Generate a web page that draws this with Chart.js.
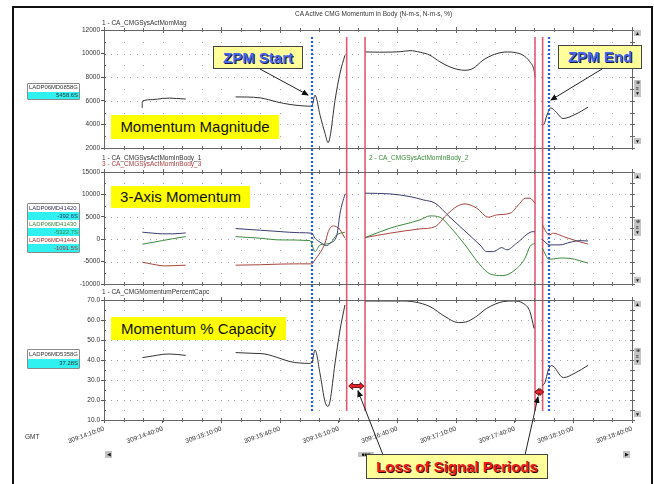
<!DOCTYPE html>
<html>
<head>
<meta charset="utf-8">
<title>CA Active CMG Momentum in Body</title>
<script src="https://cdn.jsdelivr.net/npm/chart.js@4.4.1/dist/chart.umd.min.js"></script>
<style>
  html, body { margin: 0; padding: 0; background: #fff; }
  #page { position: relative; width: 654px; height: 484px; overflow: hidden; font-family: "Liberation Sans", Arial, sans-serif; }
  #page canvas { position: absolute; left: 0; top: 0; }
  .frame { position: absolute; left: 12px; top: 6px; width: 641px; height: 500px; border: 2px solid #111; box-sizing: border-box; }
  .small { position: absolute; font-size: 6.5px; line-height: 7px; white-space: nowrap; color: #333; }
  .vbox { position: absolute; left: 27px; width: 53px; border: 1px solid #8a8a8a; border-radius: 1px; box-sizing: border-box; background: #fff; font-size: 5.9px; }
  .vbox div { height: 8px; line-height: 8px; padding: 0 1px; white-space: nowrap; overflow: hidden; }
  .vbox .val { background: #30f0f0; text-align: right; }
  .tag { position: absolute; background: #ffff00; color: #111; font-size: 15px; text-align: center; white-space: nowrap; }
  .call { position: absolute; background: #ffff99; border: 1px solid #444; box-sizing: border-box; font-weight: bold; font-size: 15px; text-align: center; white-space: nowrap; }
  .sb { position: absolute; left: 634px; width: 7px; background: #c4c4c4; font-size: 5px; text-align: center; color: #111; overflow: hidden; }
</style>
</head>
<body>
<div id="page">
  <canvas id="magChart" width="654" height="484"></canvas>
  <canvas id="axisChart" width="654" height="484"></canvas>
  <canvas id="capChart" width="654" height="484"></canvas>
  <div class="frame"></div>

  <div class="small" style="left:295px;top:10px;">CA Active CMG Momentum in Body (N-m-s, N-m-s, %)</div>
  <div class="small" style="left:102px;top:18.5px;">1 - CA_CMGSysActMomMag</div>
  <div class="small" style="left:102px;top:153.5px;">1 - CA_CMGSysActMomInBody_1</div>
  <div class="small" style="left:102px;top:160px;color:#a84040;">3 - CA_CMGSysActMomInBody_3</div>
  <div class="small" style="left:369px;top:153.5px;color:#3a8a3a;">2 - CA_CMGSysActMomInBody_2</div>
  <div class="small" style="left:102px;top:288px;">1 - CA_CMGMomentumPercentCapc</div>
  <div class="small" style="left:25px;top:433px;">GMT</div>

  <div class="vbox" style="top:83px;">
    <div style="color:#333;height:7.5px;line-height:7.5px;">LADP06MD0858G</div>
    <div class="val" style="color:#333;height:7.5px;line-height:7.5px;">5458.6S</div>
  </div>
  <div class="vbox" style="top:203px;">
    <div style="color:#33335a;">LADP06MD41420</div>
    <div class="val" style="color:#33335a;">-392.6S</div>
    <div style="color:#3a8a3a;">LADP06MD41430</div>
    <div class="val" style="color:#3a8a3a;">-5322.7S</div>
    <div style="color:#b03030;">LADP06MD41440</div>
    <div class="val" style="color:#b03030;">-1091.5S</div>
  </div>
  <div class="vbox" style="top:349px;">
    <div style="color:#333;height:9px;line-height:9px;">LADP06MD5358G</div>
    <div class="val" style="color:#333;height:9px;line-height:9px;">37.28S</div>
  </div>

  <div class="sb" style="top:30px;height:6px;line-height:6px;">&#9650;</div>
  <div class="sb" style="top:80px;height:17px;line-height:5.6px;">&#8853;<br>&#8801;<br>&#9660;</div>
  <div class="sb" style="top:138px;height:6px;line-height:6px;">&#9660;</div>
  <div class="sb" style="top:173px;height:6px;line-height:6px;">&#9650;</div>
  <div class="sb" style="top:219px;height:17px;line-height:5.6px;">&#8853;<br>&#8801;<br>&#9660;</div>
  <div class="sb" style="top:277px;height:6px;line-height:6px;">&#9660;</div>
  <div class="sb" style="top:301px;height:6px;line-height:6px;">&#9650;</div>
  <div class="sb" style="top:348px;height:17px;line-height:5.6px;">&#8853;<br>&#8801;<br>&#9660;</div>
  <div class="sb" style="top:411px;height:6px;line-height:6px;">&#9660;</div>
  <div class="sb" style="left:105px;top:451px;height:7px;line-height:7px;">&#9664;</div>
  <div class="sb" style="left:623px;top:451px;height:7px;line-height:7px;">&#9654;</div>
  <div class="sb" style="left:358px;top:452px;width:16px;height:5px;line-height:5px;">&#9632;&#9632;&#9632;</div>

  <div class="tag" style="left:111px;top:115px;width:168px;height:24px;line-height:24px;">Momentum Magnitude</div>
  <div class="tag" style="left:111px;top:186px;width:139px;height:22px;line-height:22px;">3-Axis Momentum</div>
  <div class="tag" style="left:111px;top:317px;width:175px;height:23px;line-height:23px;">Momentum % Capacity</div>

  <svg width="654" height="484" style="position:absolute;left:0;top:0;">
    <defs>
      <marker id="ah" markerWidth="7" markerHeight="6" refX="6" refY="3" orient="auto" markerUnits="userSpaceOnUse">
        <path d="M0,0 L7,3 L0,6 z" fill="#111"></path>
      </marker>
    </defs>
    <g stroke="#222" stroke-width="1" marker-end="url(#ah)">
      <line x1="260" y1="69" x2="308" y2="95"></line>
      <line x1="602" y1="69" x2="551" y2="100"></line>
      <line x1="383" y1="455" x2="358" y2="391"></line>
      <line x1="525" y1="455" x2="538" y2="397"></line>
    </g>
  </svg>

  <div class="call" style="left:213px;top:46px;width:90px;height:23px;line-height:21px;color:#4466ee;text-shadow:1px 1px 0 #1a1a4a;">ZPM Start</div>
  <div class="call" style="left:558px;top:45px;width:84px;height:24px;line-height:22px;color:#4466ee;text-shadow:1px 1px 0 #1a1a4a;">ZPM End</div>
  <div class="call" style="left:366px;top:454px;width:182px;height:25px;line-height:23px;color:#ee1c1c;text-shadow:1px 1px 0 #3a0000;">Loss of Signal Periods</div>
</div>

<script>
  'use strict';

  /* =========================================================================
     DATA  (time = minutes after 309:14:10:00 GMT, null = no signal)
     ========================================================================= */

  var timeLabels = ['309:14:10:00', '309:14:40:00', '309:15:10:00', '309:15:40:00', '309:16:10:00',
                    '309:16:40:00', '309:17:10:00', '309:17:40:00', '309:18:10:00', '309:18:40:00'];

  // ZPM start / end and the two loss-of-signal windows
  var zpmTimes = [106.2, 227.6];
  var losStart = [124.1, 220.4];
  var losEnd = [133.5, 224.3];
  var losArrowLevel = [27, 24];   // in % capacity units

  // 1 - CA_CMGSysActMomMag
  var magTime = [19.5, 19.6, 25, 29.8, 33.7, 37, 41.8, 55,
                 67.3, 73, 79.8, 84, 88.3, 95.1, 100.2, 105.3, 106.4, 107.9, 110.5, 113.0, 114.6, 115.6, 118.1, 120.7, 123.2, 128,
                 133.5, 141.1, 151.4, 156.5, 161.6, 166.7, 171.8, 176.9, 181.0, 184.6, 188.7, 193.8, 199.9, 206.1, 210.2, 214.3, 217.8, 219.9, 220.4, 222,
                 224.1, 225.0, 226.5, 228.4, 231.1, 234.7, 240.9, 247.5];
  var magValues = [5400, 5970, 6100, 6200, 6230, 6200, 6150, null,
                   6330, 6320, 6250, 6100, 5910, 5690, 5590, 5540, 5600, 6480, 4770, 3250, 2450, 2950, 6000, 8350, 9860, null,
                   10140, 10120, 10160, 10250, 10120, 9860, 9300, 8870, 8650, 8590, 8740, 9440, 9950, 10140, 10090, 9860, 9300, 8590, 8030, null,
                   3930, 4010, 4780, 5400, 5060, 4500, 4840, 5460];

  // 1 - CA_CMGSysActMomInBody_1
  var body1Time = [19.6, 25, 30, 35, 41.8, 55,
                   67.3, 80, 90, 100, 106.2, 107.9, 110.5, 113.9, 115.6, 119.1, 120.7, 123.2, 128,
                   133.5, 146.2, 156.5, 163.3, 169.3, 176.9, 184.6, 192.3, 195.7, 199.1, 203.4, 206.0, 211.0, 219.5, 220.4, 222,
                   224.1, 225.5, 227.6, 233.2, 238.3, 243.4, 247.5];
  var body1Values = [1560, 1350, 1200, 1200, 1400, null,
                     2370, 2000, 1700, 1450, 1340, 220, -670, -1430, -900, 960, 5800, 10040, null,
                     10270, 10110, 9510, 8770, 8030, 4900, 1800, -1300, -2770, -2770, -1870, -2390, -900, 1700, 1600, null,
                     0, -600, -1270, -1270, -690, -320, -390];

  // 2 - CA_CMGSysActMomInBody_2
  var body2Time = [19.6, 25, 30, 35, 41.8, 55,
                   67.3, 79.8, 90, 105.3, 107.9, 110.5, 115.6, 119.0, 123.2, 128,
                   133.5, 146.2, 161.6, 166.7, 171.8, 176.9, 184.6, 192.3, 197.4, 204.0, 210.2, 215.3, 217.8, 220.4, 222,
                   224.1, 227.6, 230, 233.2, 238.3, 247.5];
  var body2Values = [-1120, -700, -300, 100, 580, null,
                     580, 220, -160, -310, -2770, -1270, -900, 960, 1560, null,
                     360, 2450, 4310, 5200, 4900, 2800, -1270, -5740, -7750, -8120, -6850, -4240, -1640, -900, null,
                     -2000, -4460, -4400, -4200, -4300, -5320];

  // 3 - CA_CMGSysActMomInBody_3
  var body3Time = [19.6, 25, 31.2, 36, 41.8, 55,
                   67.3, 80, 90, 100, 106.2, 107.9, 113.0, 114.7, 117.3, 120.7, 123.2, 128,
                   133.5, 146.2, 161.6, 169.3, 175.2, 180.3, 184.6, 190.6, 196.5, 200.8, 207.6, 212.7, 215.3, 217.8, 220.4, 222,
                   224.1, 227.6, 229.8, 234.9, 240.0, 247.5];
  var body3Values = [-5130, -5600, -5960, -5900, -5800, null,
                     -5800, -5700, -5550, -5500, -5510, -4600, -900, 1700, 2970, 2080, 220, null,
                     360, 1340, 2300, 2810, 5420, 7280, 7880, 6920, 4910, 5420, 5800, 8030, 9150, 9150, 8030, null,
                     3190, 960, 1340, 590, -160, -1090];

  // 1 - CA_CMGMomentumPercentCapc
  var capTime = [19.6, 25, 29.8, 33.7, 41.8, 55,
                 67.3, 77.2, 82.3, 90, 95.1, 100, 105.3, 106.4, 107.9, 110.5, 113, 114.5, 115.6, 118.1, 120.7, 123.2, 128,
                 133.5, 151.4, 159, 166.7, 174.4, 181.2, 185, 190, 195.7, 204.2, 209.3, 214.4, 217.8, 219.9, 222,
                 224.1, 225.5, 227.2, 228.9, 234.9, 240.9, 247.5];
  var capValues = [41.2, 42, 42.8, 43, 42.3, null,
                   43.7, 43.3, 43, 40.8, 39.2, 38.5, 38.3, 39, 45, 33, 19.2, 16.8, 19.5, 38, 55, 67.5, null,
                   69.5, 69.5, 69, 66.7, 61.7, 58.7, 59, 61.5, 65.8, 69.2, 69.5, 68.3, 64.2, 55.8, null,
                   27.2, 28.7, 35, 37.2, 31.2, 33.5, 37.3];

  /* =========================================================================
     HELPERS / PLUGINS
     ========================================================================= */

  var FONT = 'Liberation Sans, Arial, sans-serif';

  function trace(label, t, v, color) {
    return {
      label: label,
      data: t.map(function (x, i) { return { x: x, y: v[i] }; }),
      borderColor: color,
      borderWidth: 1,
      pointRadius: 0,
      spanGaps: false,
      cubicInterpolationMode: 'monotone'
    };
  }

  // dotted lattice: dense dots on labelled rows, sparse dots on half rows
  var dotGrid = {
    id: 'dotGrid',
    beforeDatasetsDraw: function (chart, args, opts) {
      var ctx = chart.ctx, x = chart.scales.x, y = chart.scales.y;
      var half = opts.step / 2;
      ctx.save();
      ctx.fillStyle = '#a4a4a4';
      for (var k = 1; y.min + k * half < y.max - 1e-6; k++) {
        var py = Math.round(y.getPixelForValue(y.min + k * half));
        var dt = k % 2 === 0 ? 10 / 3 : 10;
        for (var j = 1; j * dt < 270 - 1e-6; j++) {
          ctx.fillRect(Math.round(x.getPixelForValue(j * dt)), py, 1, 1);
        }
      }
      ctx.restore();
    }
  };

  // plot box with small tick marks on every edge
  var frame = {
    id: 'frame',
    afterDatasetsDraw: function (chart, args, opts) {
      var ctx = chart.ctx, a = chart.chartArea, x = chart.scales.x, y = chart.scales.y;
      ctx.save();
      ctx.strokeStyle = '#666';
      ctx.lineWidth = 1;
      ctx.strokeRect(Math.round(a.left) + 0.5, Math.round(a.top) + 0.5, Math.round(a.right - a.left), Math.round(a.bottom - a.top));
      ctx.beginPath();
      for (var t = 0; t <= 270; t += 10) {
        var px = Math.round(x.getPixelForValue(t)) + 0.5;
        var len = t % 30 === 0 ? 3 : 2;
        ctx.moveTo(px, a.top - len); ctx.lineTo(px, a.top + len);
        ctx.moveTo(px, a.bottom - 2); ctx.lineTo(px, a.bottom + 2);
      }
      var half = opts.step / 2;
      for (var v = y.min; v <= y.max + 1e-6; v += half) {
        var py = Math.round(y.getPixelForValue(v)) + 0.5;
        ctx.moveTo(a.right - 2, py); ctx.lineTo(a.right + 3, py);
        ctx.moveTo(a.left, py); ctx.lineTo(a.left + 2, py);
      }
      ctx.stroke();
      ctx.restore();
    }
  };

  // ZPM (blue dotted) and loss-of-signal (red) markers spanning all panels
  var eventLines = {
    id: 'eventLines',
    afterDraw: function (chart) {
      var ctx = chart.ctx, x = chart.scales.x;
      ctx.save();
      ctx.strokeStyle = 'rgba(226,80,104,0.95)';
      ctx.lineWidth = 1.6;
      losStart.concat(losEnd).forEach(function (t) {
        var px = x.getPixelForValue(t);
        ctx.beginPath(); ctx.moveTo(px, 37); ctx.lineTo(px, 411); ctx.stroke();
      });
      ctx.strokeStyle = '#2a5be0';
      ctx.lineWidth = 2.2;
      ctx.setLineDash([2, 2]);
      zpmTimes.forEach(function (t) {
        var px = Math.round(x.getPixelForValue(t));
        ctx.beginPath(); ctx.moveTo(px, 37); ctx.lineTo(px, 411); ctx.stroke();
      });
      ctx.restore();
    }
  };

  // red double arrows inside each loss-of-signal window
  var losArrows = {
    id: 'losArrows',
    afterDraw: function (chart) {
      var ctx = chart.ctx, x = chart.scales.x, y = chart.scales.y;
      ctx.save();
      ctx.fillStyle = '#e8202a';
      ctx.strokeStyle = '#4a0000';
      ctx.lineWidth = 0.8;
      losStart.forEach(function (s, i) {
        var x1 = x.getPixelForValue(s) + 2, x2 = x.getPixelForValue(losEnd[i]) - 1;
        if (x2 - x1 < 9) { var c = (x1 + x2) / 2; x1 = c - 4.5; x2 = c + 4.5; }
        var py = y.getPixelForValue(losArrowLevel[i]), h = 4;
        ctx.beginPath();
        ctx.moveTo(x1, py);
        ctx.lineTo(x1 + h, py - 3.5); ctx.lineTo(x1 + h, py - 1.5);
        ctx.lineTo(x2 - h, py - 1.5); ctx.lineTo(x2 - h, py - 3.5);
        ctx.lineTo(x2, py);
        ctx.lineTo(x2 - h, py + 3.5); ctx.lineTo(x2 - h, py + 1.5);
        ctx.lineTo(x1 + h, py + 1.5); ctx.lineTo(x1 + h, py + 3.5);
        ctx.closePath();
        ctx.fill(); ctx.stroke();
      });
      ctx.restore();
    }
  };

  /* =========================================================================
     PANELS
     ========================================================================= */

  function makePanel(id, o) {
    return new Chart(document.getElementById(id), {
      type: 'line',
      data: { datasets: o.datasets },
      options: {
        responsive: false,
        animation: false,
        events: [],
        layout: { padding: { top: o.top, bottom: o.bottom, left: 0, right: 22 } },
        plugins: {
          legend: { display: false },
          tooltip: { enabled: false },
          dotGrid: { step: o.step },
          frame: { step: o.step }
        },
        scales: {
          x: {
            type: 'linear', min: 0, max: 270,
            display: o.showTime,
            border: { display: false },
            grid: { drawOnChartArea: false, tickLength: 3, color: '#555' },
            ticks: {
              stepSize: 30, autoSkip: false, minRotation: 20, maxRotation: 20, padding: 2,
              color: '#333', font: { family: FONT, size: 6.5 },
              callback: function (v, i) { return timeLabels[i]; }
            },
            afterFit: function (s) { if (o.showTime) s.height = 40; }
          },
          y: {
            min: o.min, max: o.max,
            border: { color: '#555' },
            grid: { drawOnChartArea: false, tickLength: 3, color: '#555' },
            ticks: {
              stepSize: o.step, padding: 1, color: '#333',
              font: { family: FONT, size: 6.5 },
              callback: o.fmt
            },
            afterFit: function (s) { s.width = 104; }
          }
        }
      },
      plugins: o.plugins
    });
  }

  makePanel('magChart', {
    top: 30, bottom: 336, min: 2000, max: 12000, step: 2000, showTime: false,
    fmt: function (v) { return String(v); },
    datasets: [trace('1 - CA_CMGSysActMomMag', magTime, magValues, '#333')],
    plugins: [dotGrid, frame, eventLines]
  });

  makePanel('axisChart', {
    top: 172, bottom: 200, min: -10000, max: 15000, step: 5000, showTime: false,
    fmt: function (v) { return String(v); },
    datasets: [
      trace('1 - CA_CMGSysActMomInBody_1', body1Time, body1Values, '#3b3d6e'),
      trace('2 - CA_CMGSysActMomInBody_2', body2Time, body2Values, '#3d8a3d'),
      trace('3 - CA_CMGSysActMomInBody_3', body3Time, body3Values, '#a8443c')
    ],
    plugins: [dotGrid, frame]
  });

  makePanel('capChart', {
    top: 300, bottom: 24, min: 10, max: 70, step: 10, showTime: true,
    fmt: function (v) { return v.toFixed(1); },
    datasets: [trace('1 - CA_CMGMomentumPercentCapc', capTime, capValues, '#333')],
    plugins: [dotGrid, frame, losArrows]
  });
</script>
</body>
</html>
